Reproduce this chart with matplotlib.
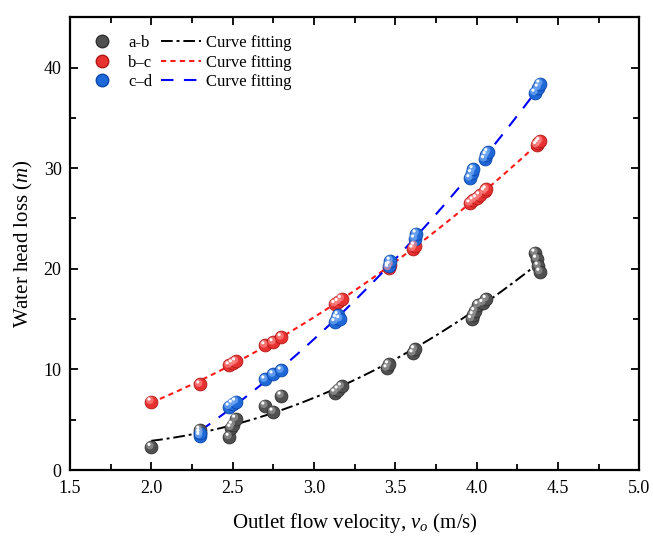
import numpy as np
import matplotlib
matplotlib.use('Agg')
import matplotlib.pyplot as plt
from matplotlib.transforms import offset_copy
from matplotlib.ticker import MultipleLocator

# ------ DATA
v_ab = [2.00, 2.30, 2.30, 2.48, 2.49, 2.50, 2.52, 2.70, 2.75, 2.80, 3.13, 3.15, 3.17,
        3.45, 3.46, 3.61, 3.62, 3.97, 3.98, 3.99, 4.01, 4.04, 4.06, 4.36, 4.37, 4.38, 4.39]
h_ab = [2.3, 3.7, 4.0, 3.3, 4.2, 4.5, 5.1, 6.4, 5.8, 7.4, 7.7, 8.0, 8.3,
        10.1, 10.5, 11.6, 12.0, 15.0, 15.4, 15.8, 16.4, 16.6, 17.0, 21.6, 21.0, 20.3, 19.7]

v_bc = [2.00, 2.30, 2.48, 2.50, 2.52, 2.70, 2.75, 2.80, 3.13, 3.15, 3.17, 3.46, 3.47,
        3.61, 3.62, 3.96, 3.98, 4.00, 4.02, 4.05, 4.06, 4.37, 4.38, 4.39]
h_bc = [6.8, 8.5, 10.4, 10.6, 10.8, 12.4, 12.7, 13.2, 16.5, 16.7, 17.0, 20.1, 20.4,
        22.0, 22.3, 26.5, 26.8, 27.0, 27.3, 27.7, 27.9, 32.3, 32.5, 32.7]

v_cd = [2.30, 2.30, 2.48, 2.50, 2.52, 2.70, 2.75, 2.80, 3.13, 3.14, 3.15, 3.16, 3.46,
        3.47, 3.62, 3.63, 3.96, 3.97, 3.98, 4.05, 4.06, 4.07, 4.36, 4.38, 4.39]
h_cd = [3.4, 3.7, 6.3, 6.6, 6.8, 9.0, 9.5, 9.9, 14.7, 15.1, 15.4, 15.0, 20.3,
        20.8, 23.0, 23.5, 29.0, 29.5, 29.9, 30.9, 31.3, 31.6, 37.5, 38.0, 38.4]

series_labels = ['a-b', 'b\u2013c', 'c\u2013d']
x_ticks = [1.5, 2.0, 2.5, 3.0, 3.5, 4.0, 4.5, 5.0]
y_ticks = [0, 10, 20, 30, 40]

plt.rcParams['font.family'] = ['Liberation Serif', 'DejaVu Serif']
plt.rcParams['mathtext.fontset'] = 'custom'
plt.rcParams['mathtext.rm'] = 'Liberation Serif'
plt.rcParams['mathtext.it'] = 'Liberation Serif:italic'


def quad_fit(v, h):
    # 2nd order polynomial through the measured points
    p = np.polyfit(v, h, 2)
    vv = np.linspace(min(v), max(v), 200)
    return vv, np.polyval(p, vv)


def sphere(ax, fig, v, h, body, light, edge):
    # crude 3D ball look: body + offset lighter disc + white glint
    ax.scatter(v, h, s=85, color=body, edgecolor=edge, linewidth=0.6, zorder=3)
    tr1 = offset_copy(ax.transData, fig=fig, x=-1.0, y=1.0, units='points')
    ax.scatter(v, h, s=30, color=light, edgecolor='none', alpha=0.7, zorder=4, transform=tr1)
    tr2 = offset_copy(ax.transData, fig=fig, x=-1.6, y=1.8, units='points')
    ax.scatter(v, h, s=5, color='white', edgecolor='none', zorder=5, transform=tr2)


fig = plt.figure(figsize=(6.53, 5.39), dpi=100)
ax = fig.add_axes([0.107, 0.128, 0.872, 0.840])

#--------------------- DATA POINTS
sphere(ax, fig, v_ab, h_ab, '#505050', '#9a9a9a', '#303030')
sphere(ax, fig, v_bc, h_bc, '#e83232', '#ff8a8a', '#b01818')
sphere(ax, fig, v_cd, h_cd, '#1f68d8', '#79aef5', '#0b45a8')

#--------------------- CURVE FITTING
x1, y1 = quad_fit(v_ab, h_ab)
x2, y2 = quad_fit(v_bc, h_bc)
x3, y3 = quad_fit(v_cd, h_cd)
ax.plot(x1, y1, color='black', lw=1.4, dashes=(6, 2, 1.5, 2), zorder=2)
ax.plot(x2, y2, color='#ff1a1a', lw=1.5, dashes=(2.5, 2), zorder=2)
ax.plot(x3, y3, color='#0000ff', lw=1.5, dashes=(6, 5), zorder=2)

#--------------------- LEGEND
mk = dict(marker='o', linestyle='none', markersize=9)
h1, = ax.plot([], [], color='#505050', mec='#303030', **mk)
h2, = ax.plot([], [], color='#e83232', mec='#b01818', **mk)
h3, = ax.plot([], [], color='#1f68d8', mec='#0b45a8', **mk)
l1, = ax.plot([], [], color='black', lw=1.4, dashes=(6, 2, 1.5, 2))
l2, = ax.plot([], [], color='#ff1a1a', lw=1.5, dashes=(2.5, 2))
l3, = ax.plot([], [], color='#0000ff', lw=1.5, dashes=(6, 5))
ax.legend([h1, h2, h3, l1, l2, l3],
          series_labels + ['Curve fitting'] * 3,
          ncol=2, loc='upper left', bbox_to_anchor=(0.01, 0.975),
          frameon=False, fontsize=12, handlelength=2.4, handletextpad=0.35,
          columnspacing=0.5, labelspacing=0.2, borderaxespad=0, borderpad=0.4)

#--------------------- AXES
ax.set_xlim(1.5, 5.0)
ax.set_ylim(0, 45)
ax.set_xticks(x_ticks)
ax.set_yticks(y_ticks)
ax.xaxis.set_minor_locator(MultipleLocator(0.25))
ax.yaxis.set_minor_locator(MultipleLocator(5))
ax.tick_params(which='both', direction='in', top=True, right=True, labelsize=13, width=1.3)
ax.tick_params(which='major', length=6)
ax.tick_params(which='minor', length=4)
ax.tick_params(axis='x', pad=7)
ax.tick_params(axis='y', pad=6)
for s in ax.spines.values():
    s.set_linewidth(1.6)

ax.set_xlabel('Outlet flow velocity, $v_o$ (m/s)', fontsize=15, labelpad=10)
ax.set_ylabel('Water head loss ($m$)', fontsize=15, labelpad=6)

fig.savefig('out.png', dpi=100)
